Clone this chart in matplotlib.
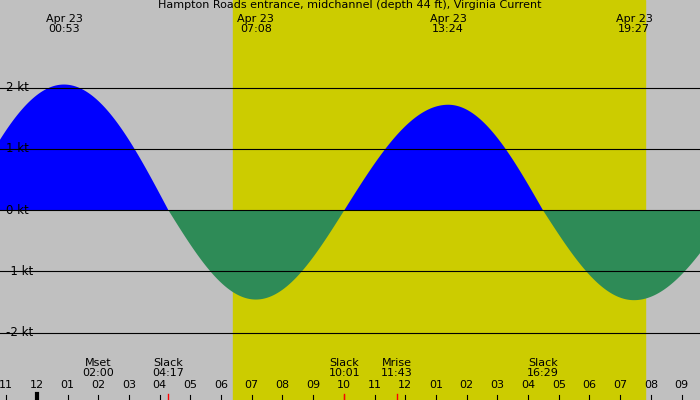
import numpy as np
import matplotlib
matplotlib.use("Agg")
import matplotlib.pyplot as plt

# event times (hours from midnight Apr 23) and speeds (kt)
ev_t = [-2.47, 0.883, 4.283, 7.133, 10.017, 13.40, 16.483, 19.45, 22.6]
ev_v = [0.0, 2.05, 0.0, -1.46, 0.0, 1.72, 0.0, -1.47, 0.0]
max_labels = ["00:53", "07:08", "13:24", "19:27"]
max_times = [0.883, 7.133, 13.40, 19.45]
low_names = ["Mset", "Slack", "Slack", "Mrise", "Slack", "Slack"]
low_times = [2.0, 4.283, 10.017, 11.717, 16.483, 22.6]
low_texts = ["02:00", "04:17", "10:01", "11:43", "16:29", "22:36"]
sunrise, sunset = 6.38, 19.8
x0, x1 = -1.2, 21.6

# sine-shaped curve between events (steep at slack, round at max)
t = np.linspace(x0, x1, 2000)
v = np.zeros_like(t)
for i in range(len(ev_t) - 1):
    m = (t >= ev_t[i]) & (t <= ev_t[i + 1])
    f = (t[m] - ev_t[i]) / (ev_t[i + 1] - ev_t[i])
    if ev_v[i] == 0:
        v[m] = ev_v[i + 1] * np.sin(np.pi / 2 * f)
    else:
        v[m] = ev_v[i] * np.cos(np.pi / 2 * f)

fig = plt.figure(figsize=(7, 4), dpi=100)
fig.patch.set_facecolor("#c0c0c0")
ax = fig.add_axes([0, 0, 1, 1])
ax.set_xlim(x0, x1)
ax.set_ylim(-3.1, 3.43)
ax.axvspan(sunrise, sunset, color="#cccc00", zorder=0)
ax.fill_between(t, 0, v, where=v >= 0, color="#0000ff", lw=0, zorder=1)
ax.fill_between(t, 0, v, where=v <= 0, color="#2e8b57", lw=0, zorder=1)
for k in [-2, -1, 0, 1, 2]:
    ax.axhline(k, color="black", lw=0.8, zorder=2)
    ax.text(x0 + 0.18, k, f"{k} kt", fontsize=8.5, va="center", ha="left", zorder=3)
ax.axis("off")

ax.text((x0 + x1) / 2, 3.43, "Hampton Roads entrance, midchannel (depth 44 ft), Virginia Current",
        ha="center", va="top", fontsize=8)
for mt, lab in zip(max_times, max_labels):
    ax.text(mt, 3.2, "Apr 23\n" + lab, ha="center", va="top", fontsize=8, linespacing=1.0)
for lt, nm, tx in zip(low_times, low_names, low_texts):
    ax.text(lt, -2.58, nm + "\n" + tx, ha="center", va="center", fontsize=8, linespacing=0.95)

hours = np.arange(-1, 22)
for h in hours:
    lab = f"{(h % 12) or 12:02d}"
    ax.text(h, -2.86, lab, ha="center", va="center", fontsize=8)
    ax.plot([h, h], [-3.1, -3.02], color="black", lw=0.8)
ax.plot([0, 0], [-3.1, -3.0], color="black", lw=3)
for lt in [4.283, 10.017, 11.717]:
    ax.plot([lt, lt], [-3.1, -3.0], color="red", lw=1)

fig.savefig("out.png", dpi=100, facecolor=fig.get_facecolor())
